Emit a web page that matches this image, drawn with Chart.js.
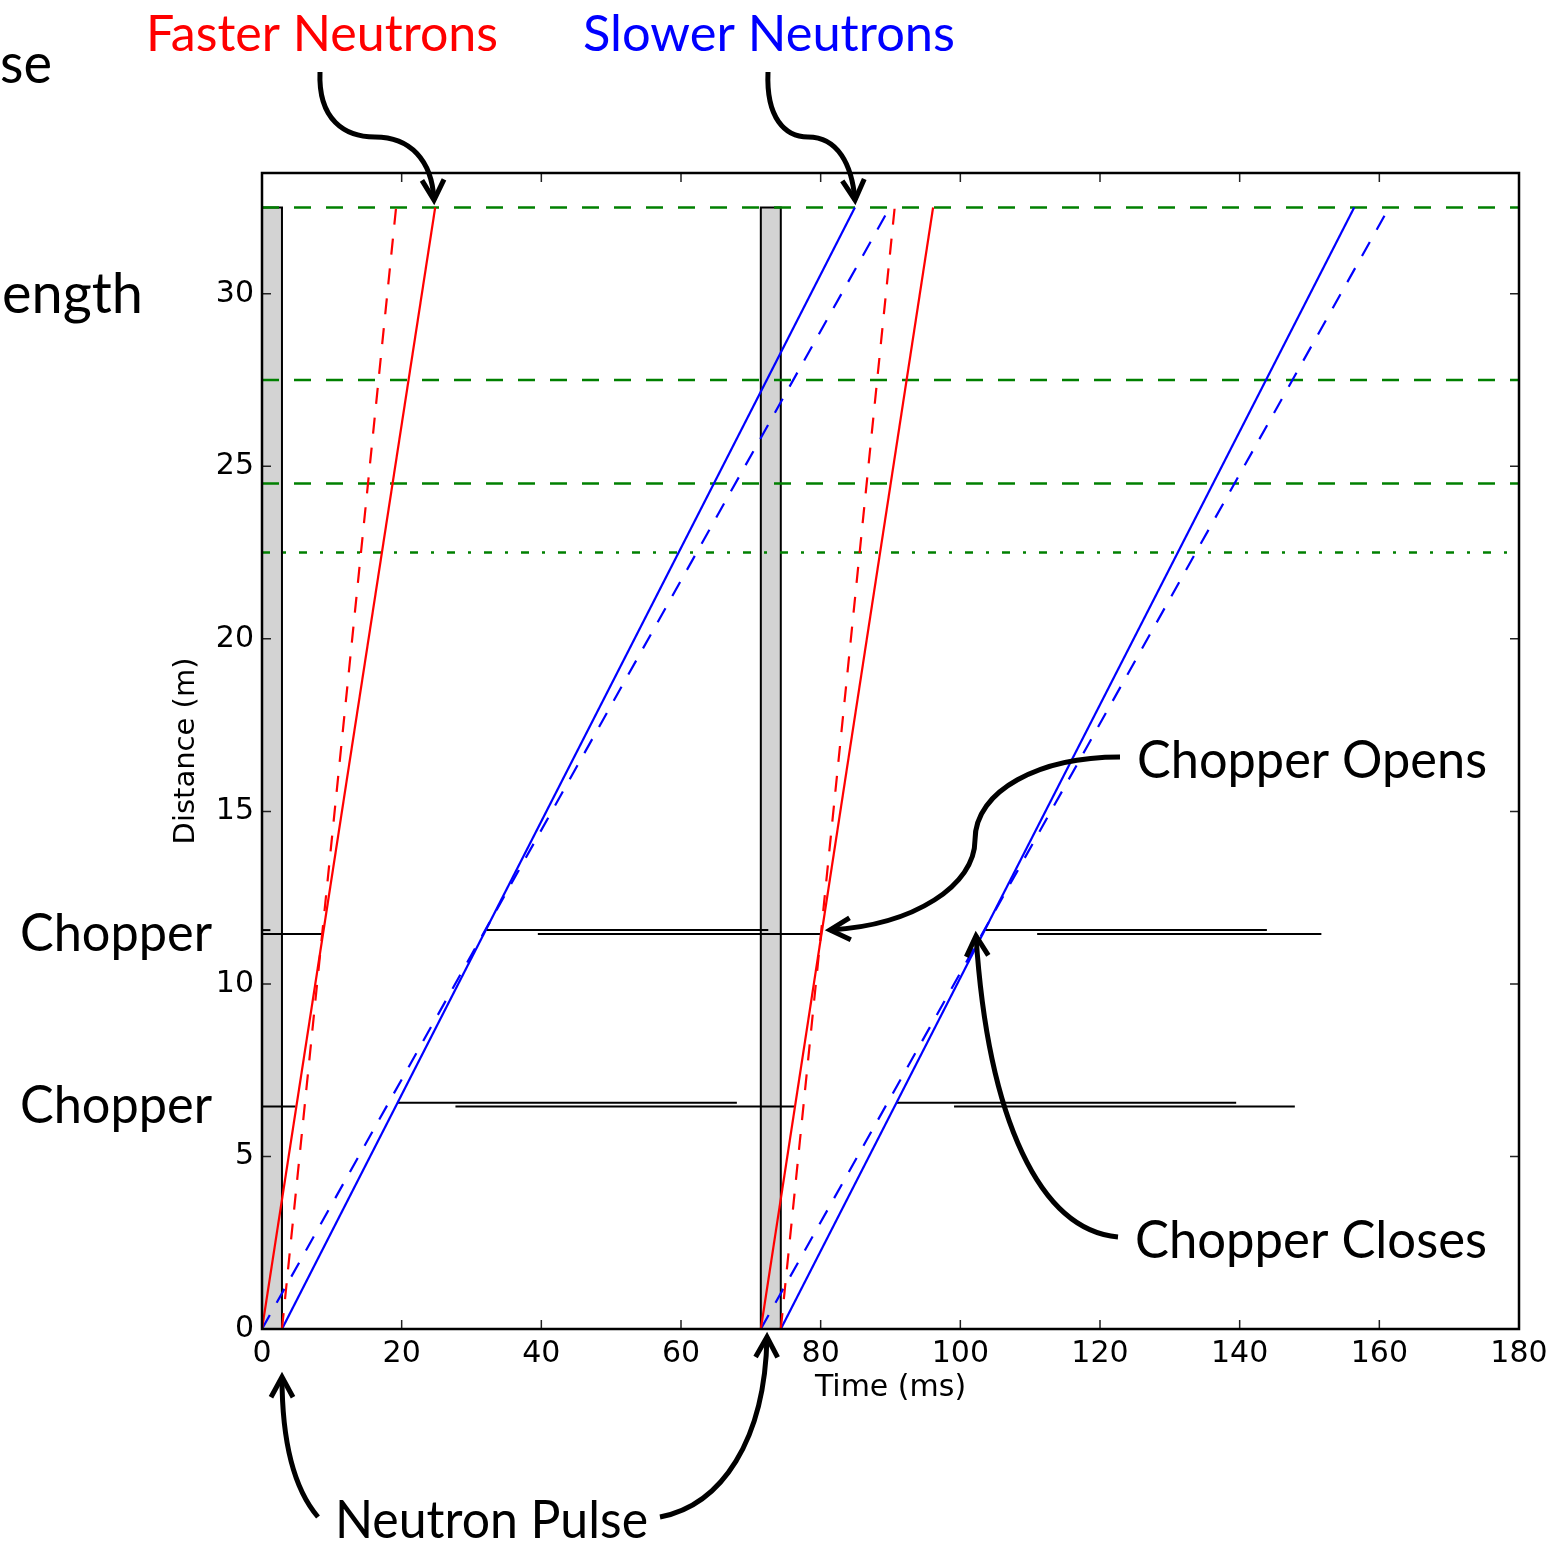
<!DOCTYPE html>
<html>
<head>
<meta charset="utf-8">
<script src="https://cdn.jsdelivr.net/npm/chart.js@4.4.1/dist/chart.umd.min.js"></script>
<style>
  html, body { margin: 0; padding: 0; background: #fff; }
</style>
</head>
<body>
<canvas id="chart-tof" width="1567" height="1543"></canvas>
<script>
// distance along the beamline vs time since the source pulse
const pulseStarts = [0, 71.43];      // ms
const pulseLength = 2.86;             // ms
const detectorDistance = 32.5;        // m

// neutron trajectories: [leave source (ms), reach 32.5 m (ms)]
const fastSolid  = [[0, 24.8], [71.43, 96.1]];
const fastDashed = [[2.86, 19.2], [74.29, 90.6]];
const slowSolid  = [[2.86, 84.9], [74.29, 156.4]];
const slowDashed = [[0, 89.9], [71.43, 161.4]];

// horizontal guide levels (m)
const dashedLevels  = [32.5, 27.5, 24.5];
const dashDotLevels = [22.5];

// chopper discs: height (m) and closed intervals (ms)
const chopperHeights = [6.56, 6.45, 11.56, 11.45];
const chopperClosed = [
  [[19.4, 68.0], [90.9, 139.5]],
  [[0, 4.8], [27.7, 76.3], [99.1, 147.9]],
  [[0, 1.2], [32.1, 72.5], [103.5, 143.9]],
  [[0, 8.7], [39.5, 80.2], [111.0, 151.7]]
];

const xTicks = [0, 20, 40, 60, 80, 100, 120, 140, 160, 180];
const yTicks = [0, 5, 10, 15, 20, 25, 30];

const RED = '#ff0000';
const BLUE = '#0000ff';
const GREEN = '#008000';
const AX_FONT = '"DejaVu Sans", sans-serif';
const NOTE_FONT = 'Lato, "Open Sans", sans-serif';

const datasets = [];

function addLine(points, color, width, dash, order) {
  datasets.push({
    data: points.map(([x, y]) => ({ x, y })),
    borderColor: color,
    borderWidth: width,
    borderDash: dash || [],
    pointRadius: 0,
    fill: false,
    tension: 0,
    order: order
  });
}

// source pulses as grey blocks
pulseStarts.forEach(t => {
  datasets.push({
    data: [
      { x: t, y: 0 }, { x: t, y: detectorDistance },
      { x: t + pulseLength, y: detectorDistance }, { x: t + pulseLength, y: 0 }
    ],
    borderColor: '#000',
    borderWidth: 2,
    backgroundColor: '#d3d3d3',
    fill: 'origin',
    pointRadius: 0,
    tension: 0,
    order: 10
  });
});

dashedLevels.forEach(v => addLine([[0, v], [180, v]], GREEN, 2.5, [17, 15], 3));
dashDotLevels.forEach(v => addLine([[0, v], [179, v]], GREEN, 2.5, [8, 13, 3, 13], 3));

chopperClosed.forEach((spans, i) => {
  spans.forEach(([a, b]) => addLine([[a, chopperHeights[i]], [b, chopperHeights[i]]], '#000', 2, null, 4));
});

fastSolid.forEach(([a, b]) => addLine([[a, 0], [b, detectorDistance]], RED, 2.2, null, 1));
fastDashed.forEach(([a, b]) => addLine([[a, 0], [b, detectorDistance]], RED, 2.2, [16, 14], 1));
slowSolid.forEach(([a, b]) => addLine([[a, 0], [b, detectorDistance]], BLUE, 2.2, null, 1));
slowDashed.forEach(([a, b]) => addLine([[a, 0], [b, detectorDistance]], BLUE, 2.2, [16, 14], 1));

// overlay text from the slide
const notes = [
  { text: 'se', x: 0, y: 83, w: 52, size: 56, color: '#000' },
  { text: 'ength', x: 2, y: 313, w: 141, size: 56, color: '#000' },
  { text: 'Faster Neutrons', x: 146, y: 51, w: 352, size: 50, color: RED },
  { text: 'Slower Neutrons', x: 583, y: 51, w: 372, size: 50, color: BLUE },
  { text: 'Chopper', x: 20, y: 951, w: 192, size: 53, color: '#000' },
  { text: 'Chopper', x: 20, y: 1123, w: 192, size: 53, color: '#000' },
  { text: 'Chopper Opens', x: 1137, y: 778, w: 350, size: 52, color: '#000' },
  { text: 'Chopper Closes', x: 1135, y: 1258, w: 352, size: 52, color: '#000' },
  { text: 'Neutron Pulse', x: 335, y: 1538, w: 313, size: 52, color: '#000' }
];

// curved arrows: start point then bezier triples, arrow head at the last point
const arrows = [
  [[320, 72], [318, 120], [345, 137], [375, 137], [410, 137], [432, 160], [434, 200]],
  [[768, 72], [766, 118], [785, 137], [808, 137], [838, 137], [852, 165], [855, 200]],
  [[1120, 757], [1040, 757], [975, 790], [975, 840], [975, 885], [915, 925], [830, 930]],
  [[1118, 1237], [1040, 1230], [988, 1120], [976, 936]],
  [[318, 1517], [295, 1490], [282, 1445], [282, 1377]],
  [[660, 1517], [722, 1505], [765, 1440], [767, 1337]]
];

const overlay = {
  id: 'overlay',
  afterDraw(chart) {
    const { ctx, chartArea: a, scales: { x, y } } = chart;
    ctx.save();

    // inward tick marks on all four sides
    ctx.strokeStyle = '#222';
    ctx.lineWidth = 1.5;
    ctx.beginPath();
    x.ticks.forEach(t => {
      const px = x.getPixelForValue(t.value);
      ctx.moveTo(px, a.bottom); ctx.lineTo(px, a.bottom - 9);
      ctx.moveTo(px, a.top); ctx.lineTo(px, a.top + 9);
    });
    y.ticks.forEach(t => {
      const py = y.getPixelForValue(t.value);
      ctx.moveTo(a.left, py); ctx.lineTo(a.left + 9, py);
      ctx.moveTo(a.right, py); ctx.lineTo(a.right - 9, py);
    });
    ctx.stroke();

    ctx.strokeStyle = '#000';
    ctx.lineWidth = 2.5;
    ctx.strokeRect(a.left, a.top, a.width, a.height);

    // text
    ctx.textBaseline = 'alphabetic';
    ctx.textAlign = 'left';
    notes.forEach(n => {
      ctx.font = `${n.size}px ${NOTE_FONT}`;
      const w = ctx.measureText(n.text).width;
      ctx.save();
      ctx.translate(n.x, n.y);
      ctx.scale(n.w / w, 1);
      ctx.fillStyle = n.color;
      ctx.fillText(n.text, 0, 0);
      ctx.restore();
    });

    // arrows
    ctx.strokeStyle = '#000';
    ctx.lineWidth = 5;
    ctx.lineCap = 'butt';
    ctx.lineJoin = 'miter';
    arrows.forEach(p => {
      ctx.beginPath();
      ctx.moveTo(p[0][0], p[0][1]);
      for (let i = 1; i + 2 < p.length; i += 3) {
        ctx.bezierCurveTo(p[i][0], p[i][1], p[i + 1][0], p[i + 1][1], p[i + 2][0], p[i + 2][1]);
      }
      ctx.stroke();
      const tip = p[p.length - 1];
      const prev = p[p.length - 2];
      const ang = Math.atan2(tip[1] - prev[1], tip[0] - prev[0]);
      const len = 23, spread = 0.5;
      ctx.beginPath();
      ctx.moveTo(tip[0] - len * Math.cos(ang - spread), tip[1] - len * Math.sin(ang - spread));
      ctx.lineTo(tip[0], tip[1]);
      ctx.lineTo(tip[0] - len * Math.cos(ang + spread), tip[1] - len * Math.sin(ang + spread));
      ctx.stroke();
    });

    ctx.restore();
  }
};

new Chart(document.getElementById('chart-tof'), {
  type: 'line',
  data: { datasets },
  options: {
    responsive: false,
    devicePixelRatio: 1,
    animation: false,
    layout: { padding: { left: 168.6, top: 173, right: 48, bottom: 137 } },
    plugins: { legend: { display: false }, tooltip: { enabled: false } },
    scales: {
      x: {
        type: 'linear',
        min: 0,
        max: 180,
        afterBuildTicks: s => { s.ticks = xTicks.map(v => ({ value: v })); },
        afterFit: s => { s.height = 77; },
        grid: { display: false, drawTicks: false },
        border: { display: false },
        ticks: { color: '#000', padding: 7, maxRotation: 0, font: { family: AX_FONT, size: 30 } },
        title: { display: true, text: 'Time (ms)', color: '#000', padding: 0, font: { family: AX_FONT, size: 30 } }
      },
      y: {
        type: 'linear',
        min: 0,
        max: 33.5,
        afterBuildTicks: s => { s.ticks = yTicks.map(v => ({ value: v })); },
        afterFit: s => { s.width = 93.4; },
        grid: { display: false, drawTicks: false },
        border: { display: false },
        ticks: { color: '#000', padding: 8, font: { family: AX_FONT, size: 30 } },
        title: { display: true, text: 'Distance (m)', color: '#000', padding: 0, font: { family: AX_FONT, size: 29 } }
      }
    }
  },
  plugins: [overlay]
});
</script>
</body>
</html>
